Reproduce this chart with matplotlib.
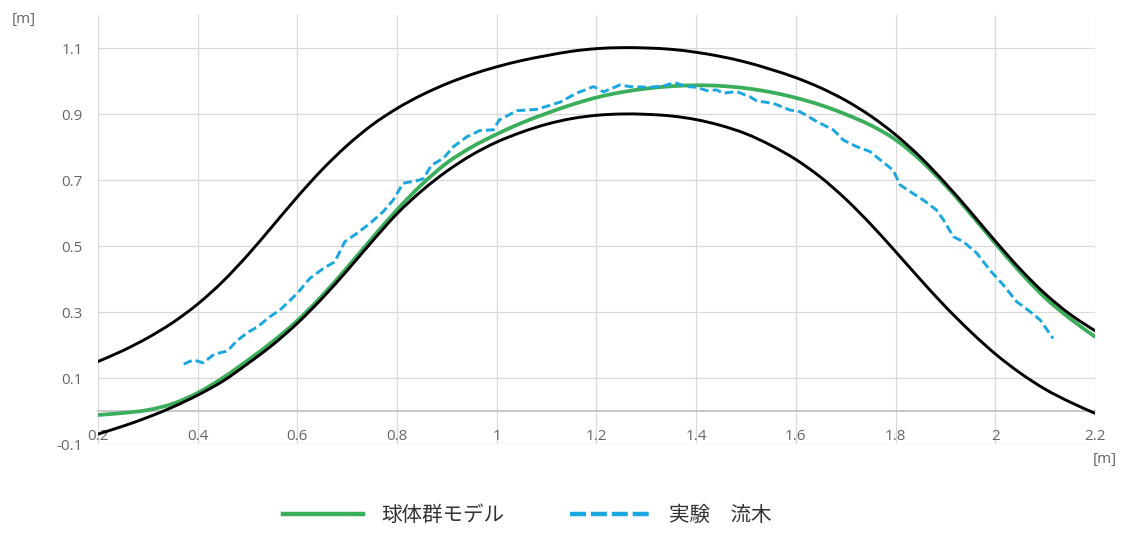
import numpy as np
import matplotlib.pyplot as plt
from matplotlib.ticker import FixedLocator, FuncFormatter
from matplotlib.path import Path
from matplotlib.patches import PathPatch
from matplotlib.lines import Line2D

plt.rcParams['font.family'] = ['Open Sans', 'Noto Sans CJK JP', 'DejaVu Sans']

# -------------------------------
# DATA
# -------------------------------

wall_x = [0.20, 0.25, 0.30, 0.35, 0.40, 0.45, 0.50, 0.55, 0.60, 0.65,
          0.70, 0.75, 0.80, 0.85, 0.90, 0.95, 1.00, 1.05, 1.10, 1.15,
          1.20, 1.25, 1.30, 1.35, 1.40, 1.45, 1.50, 1.55, 1.60, 1.65,
          1.70, 1.75, 1.80, 1.85, 1.90, 1.95, 2.00, 2.05, 2.10, 2.15, 2.20]

wall_upper = [0.150, 0.183, 0.222, 0.268, 0.324, 0.392, 0.472, 0.560, 0.649, 0.732,
              0.805, 0.867, 0.917, 0.958, 0.992, 1.020, 1.043, 1.062, 1.077, 1.090,
              1.098, 1.101, 1.100, 1.096, 1.087, 1.074, 1.057, 1.035, 1.010, 0.979,
              0.941, 0.894, 0.837, 0.769, 0.690, 0.604, 0.515, 0.430, 0.355, 0.293, 0.243]

wall_lower = [-0.070, -0.046, -0.019, 0.012, 0.048, 0.090, 0.143, 0.200, 0.266, 0.342,
              0.426, 0.514, 0.598, 0.668, 0.727, 0.776, 0.815, 0.845, 0.869, 0.886,
              0.896, 0.900, 0.899, 0.894, 0.883, 0.865, 0.840, 0.805, 0.762, 0.708,
              0.642, 0.566, 0.483, 0.398, 0.316, 0.241, 0.173, 0.115, 0.066, 0.027, -0.007]

model_y = [-0.012, -0.006, 0.003, 0.022, 0.055, 0.100, 0.153, 0.210, 0.274, 0.350,
           0.435, 0.524, 0.610, 0.687, 0.752, 0.800, 0.839, 0.873, 0.902, 0.928,
           0.950, 0.966, 0.977, 0.984, 0.987, 0.985, 0.978, 0.966, 0.949, 0.927,
           0.899, 0.866, 0.822, 0.760, 0.684, 0.598, 0.508, 0.421, 0.343, 0.280, 0.225]

exp_x = [0.372, 0.391, 0.411, 0.433, 0.460, 0.478, 0.500, 0.520, 0.545, 0.565,
         0.585, 0.600, 0.625, 0.652, 0.675, 0.695, 0.719, 0.746, 0.772, 0.792,
         0.812, 0.846, 0.853, 0.869, 0.893, 0.913, 0.940, 0.966, 0.993, 1.005,
         1.040, 1.080, 1.127, 1.160, 1.194, 1.214, 1.247, 1.267, 1.307, 1.334,
         1.357, 1.381, 1.401, 1.421, 1.441, 1.454, 1.481, 1.508, 1.521, 1.555,
         1.588, 1.608, 1.642, 1.675, 1.695, 1.722, 1.749, 1.769, 1.795, 1.809,
         1.829, 1.856, 1.882, 1.896, 1.916, 1.936, 1.963, 1.989, 2.016, 2.043,
         2.070, 2.090, 2.116]

exp_y = [0.142, 0.155, 0.146, 0.172, 0.182, 0.212, 0.238, 0.255, 0.286, 0.306,
         0.335, 0.357, 0.402, 0.432, 0.452, 0.513, 0.538, 0.569, 0.604, 0.639,
         0.690, 0.700, 0.705, 0.745, 0.766, 0.801, 0.831, 0.850, 0.852, 0.882,
         0.910, 0.914, 0.936, 0.963, 0.983, 0.967, 0.988, 0.983, 0.981, 0.985,
         0.995, 0.983, 0.981, 0.971, 0.973, 0.963, 0.968, 0.952, 0.940, 0.932,
         0.912, 0.907, 0.877, 0.852, 0.821, 0.801, 0.786, 0.761, 0.730, 0.685,
         0.665, 0.639, 0.609, 0.579, 0.528, 0.513, 0.478, 0.427, 0.382, 0.331,
         0.301, 0.276, 0.220]

x_ticks = [0.2, 0.4, 0.6, 0.8, 1.0, 1.2, 1.4, 1.6, 1.8, 2.0, 2.2]
y_ticks = [-0.1, 0.1, 0.3, 0.5, 0.7, 0.9, 1.1]

labels = ['球体群モデル', '実験\u3000流木']

green = '#3aae5a'
blue = '#1aa7e0'
tick_col = '#666666'


def smooth_line(ax, xs, ys, **kw):
    # smoothed line like a spreadsheet "smooth line": cubic bezier through the points
    pts = np.column_stack([xs, ys])
    verts = [pts[0]]
    codes = [Path.MOVETO]
    for i in range(len(pts) - 1):
        p0 = pts[max(i - 1, 0)]
        p1 = pts[i]
        p2 = pts[i + 1]
        p3 = pts[min(i + 2, len(pts) - 1)]
        c1 = p1 + (p2 - p0) / 6
        c2 = p2 - (p3 - p1) / 6
        verts += [c1, c2, p2]
        codes += [Path.CURVE4] * 3
    patch = PathPatch(Path(verts, codes), fill=False, capstyle='round', **kw)
    ax.add_patch(patch)
    return patch


# -------------------------------
# PLOT
# -------------------------------

fig = plt.figure(figsize=(11.27, 5.37), dpi=100)
ax = fig.add_axes([98 / 1127, 1 - 444 / 537, (1095 - 98) / 1127, (444 - 15) / 537])

smooth_line(ax, wall_x, model_y, edgecolor=green, lw=2.7, zorder=3)
ax.plot(exp_x, exp_y, color=blue, lw=2.1, dashes=(3, 1.4), zorder=3)
smooth_line(ax, wall_x, wall_upper, edgecolor='black', lw=2.1, zorder=4)
smooth_line(ax, wall_x, wall_lower, edgecolor='black', lw=2.1, zorder=4)

ax.set_xlim(0.2, 2.2)
ax.set_ylim(-0.1, 1.2)
ax.xaxis.set_major_locator(FixedLocator(x_ticks))
ax.yaxis.set_major_locator(FixedLocator(y_ticks))
ax.xaxis.set_major_formatter(FuncFormatter(lambda v, p: f"{v:g}"))
ax.yaxis.set_major_formatter(FuncFormatter(lambda v, p: f"{v:g}"))

ax.grid(True, color='#d9d9d9', lw=0.9, zorder=0)
ax.set_axisbelow(True)

for s in ['top', 'right', 'left']:
    ax.spines[s].set_visible(False)
ax.spines['bottom'].set_position(('data', 0))
ax.spines['bottom'].set_color('#c4c4c4')
ax.spines['bottom'].set_linewidth(1.3)
ax.spines['bottom'].set_zorder(1)

ax.tick_params(axis='both', length=0, labelsize=11, labelcolor=tick_col)
ax.tick_params(axis='x', pad=13)
ax.tick_params(axis='y', pad=11)

fig.text(24 / 1127, 1 - 20 / 537, '[m]', ha='center', va='center',
         fontsize=11, color=tick_col)
fig.text(1105 / 1127, 1 - 460 / 537, '[m]', ha='center', va='center',
         fontsize=11, color=tick_col)

handles = [Line2D([], [], color=green, lw=3.2),
           Line2D([], [], color=blue, lw=3.2, dashes=(3.6, 1.1))]
fig.legend(handles, labels, loc='center', bbox_to_anchor=(527 / 1127, 1 - 515 / 537),
           ncol=2, frameon=False, handlelength=3.9, handletextpad=0.9, columnspacing=3.2,
           prop={'family': ['Noto Sans CJK JP', 'DejaVu Sans'], 'size': 14.8},
           labelcolor='#333333')

fig.savefig('out.png', dpi=100)
